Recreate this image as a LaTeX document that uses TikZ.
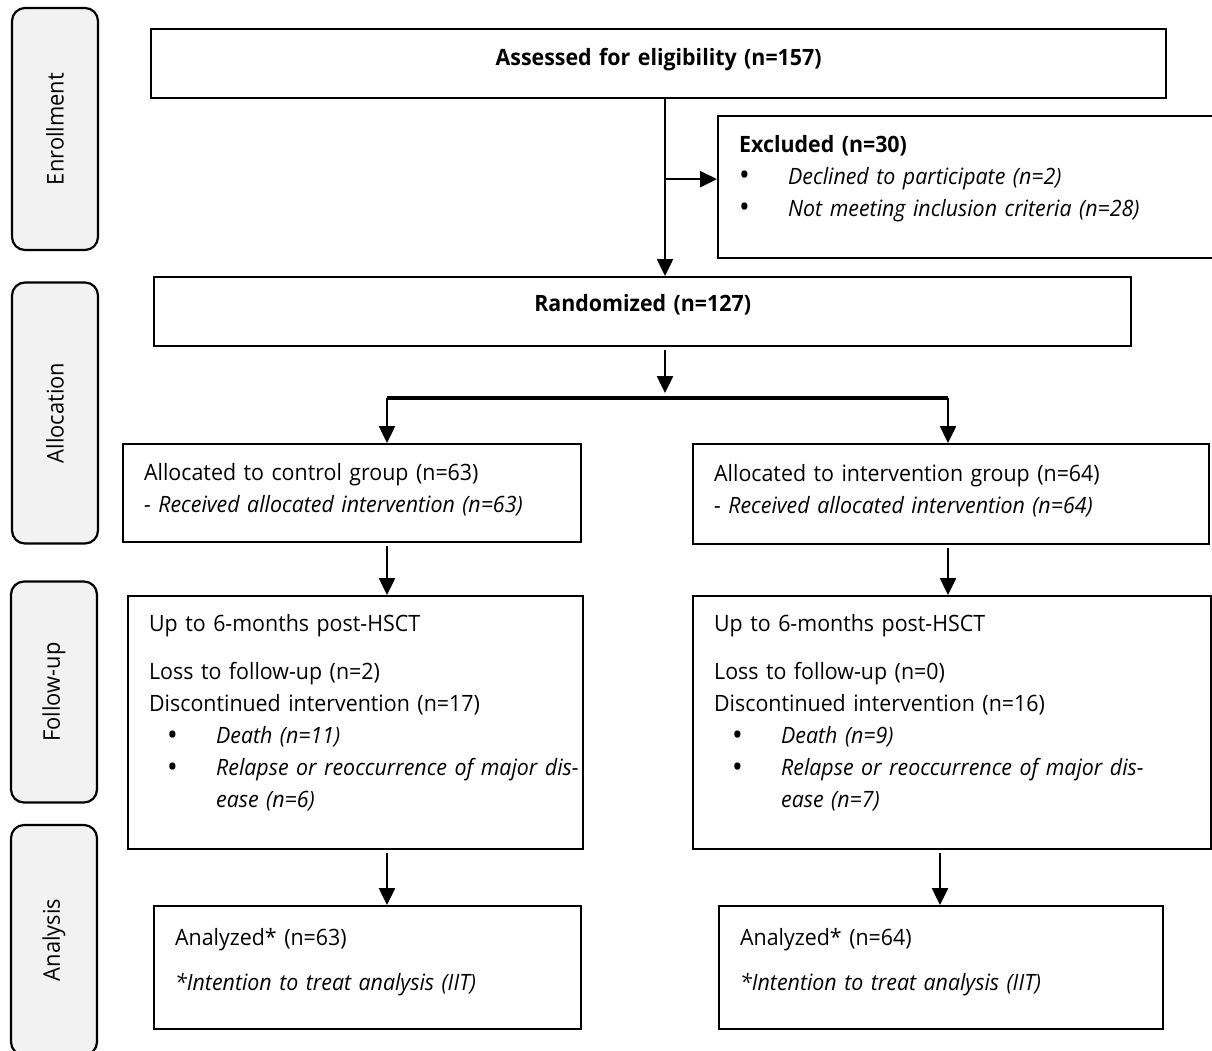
\documentclass[tikz,border=0pt]{standalone}
\usepackage{fontspec}
\setmainfont{Open Sans}[FakeStretch=0.95]
\usetikzlibrary{arrows.meta}
\definecolor{stagegray}{HTML}{F2F2F2}
\newcommand{\bul}[2][18pt]{\hspace*{#1}\makebox[49pt][l]{\raisebox{-1.5pt}{\fontsize{30}{0}\selectfont\textbullet}}\mbox{\textit{#2}}}
\newcommand{\lift}[1]{\rule[-#1]{0pt}{#1}}

\begin{document}
\begin{tikzpicture}[x=1pt,y=-1pt,
  box/.style={draw,line width=2.3pt,anchor=north west,align=left,inner xsep=21pt,font=\fontsize{22.5}{32}\selectfont},
  stage/.style={draw,line width=2.2pt,rounded corners=13pt,fill=stagegray,rotate=90,minimum height=86pt,font=\fontsize{23}{27}\selectfont},
  arr/.style={line width=2.5pt,-{Triangle[width=16pt,length=17pt]}}]
\useasboundingbox (0,0) rectangle (1212,1050);
\node[stage,minimum width=242pt] (enroll) at (55,129) {Enrollment};
\node[stage,minimum width=261pt] (alloc) at (55,413) {Allocation};
\node[stage,minimum width=221pt] (follow) at (54,692) {Follow-up};
\node[stage,minimum width=230pt] (analysis) at (54,940) {Analysis};

\node[box,align=center,minimum width=1015pt,minimum height=69pt,text width=973pt] (assess) at (150,28) {\textbf{Assessed for eligibility (n=157)}\lift{13pt}};
\node[box,minimum width=500pt,minimum height=142pt,text width=458pt] (excl) at (717,115) {\textbf{Excluded (n=30)}\\
  \bul[0pt]{Declined to participate (n=2)}\\
  \bul[0pt]{Not meeting inclusion criteria (n=28)}\lift{23pt}};
\node[box,align=center,minimum width=977pt,minimum height=69pt,text width=935pt] (random) at (153,276) {\textbf{Randomized (n=127)}\lift{17pt}};

\node[box,minimum width=458pt,minimum height=98pt,text width=416pt] (allocC) at (122,443) {Allocated to control group (n=63)\\
  \textit{- Received allocated intervention (n=63)}\lift{11pt}};
\node[box,minimum width=516pt,minimum height=100pt,text width=474pt] (allocI) at (692,443) {Allocated to intervention group (n=64)\\
  \textit{- Received allocated intervention (n=64)}\lift{11pt}};

\node[box,minimum width=455pt,minimum height=253pt,text width=413pt] (followC) at (127,595) {Up to 6-months post-HSCT\\[16pt]
  Loss to follow-up (n=2)\\
  Discontinued intervention (n=17)\\
  \bul{Death (n=11)}\\
  \bul{Relapse or reoccurrence of major dis-}\\
  \hspace*{67pt}\textit{ease (n=6)}\lift{23pt}};
\node[box,minimum width=518pt,minimum height=253pt,text width=476pt] (followI) at (692,595) {Up to 6-months post-HSCT\\[16pt]
  Loss to follow-up (n=0)\\
  Discontinued intervention (n=16)\\
  \bul{Death (n=9)}\\
  \bul{Relapse or reoccurrence of major dis-}\\
  \hspace*{67pt}\textit{ease (n=7)}\lift{23pt}};

\node[box,minimum width=427pt,minimum height=123pt,text width=385pt] (anaC) at (153,905) {Analyzed* (n=63)\\[13pt]
  \textit{*Intention to treat analysis (IIT)}\lift{17pt}};
\node[box,minimum width=444pt,minimum height=123pt,text width=402pt] (anaI) at (718,905) {Analyzed* (n=64)\\[13pt]
  \textit{*Intention to treat analysis (IIT)}\lift{17pt}};

\coordinate (trunk) at (665,0);
\coordinate (exclin) at ([yshift=8pt]excl.west);
\coordinate (splitL) at (387,398);
\coordinate (splitR) at (948,398);
\coordinate (colI) at (940,0);

\draw[arr] (trunk |- assess.south) -- (trunk |- random.north);
\draw[arr] (trunk |- exclin) -- (exclin);
\draw[arr,shorten <=3pt,shorten >=5pt] (trunk |- random.south) -- (trunk |- splitL);
\draw[line width=4pt] (splitL) -- (splitR);
\draw[arr] (splitL) -- (splitL |- allocC.north);
\draw[arr] (splitR) -- (splitR |- allocI.north);
\draw[arr,shorten <=3pt] (splitL |- allocC.south) -- (splitL |- followC.north);
\draw[arr,shorten <=3pt] (splitR |- allocI.south) -- (splitR |- followI.north);
\draw[arr,shorten <=3pt] (splitL |- followC.south) -- (splitL |- anaC.north);
\draw[arr,shorten <=3pt] (colI |- followI.south) -- (colI |- anaI.north);
\end{tikzpicture}
\end{document}
